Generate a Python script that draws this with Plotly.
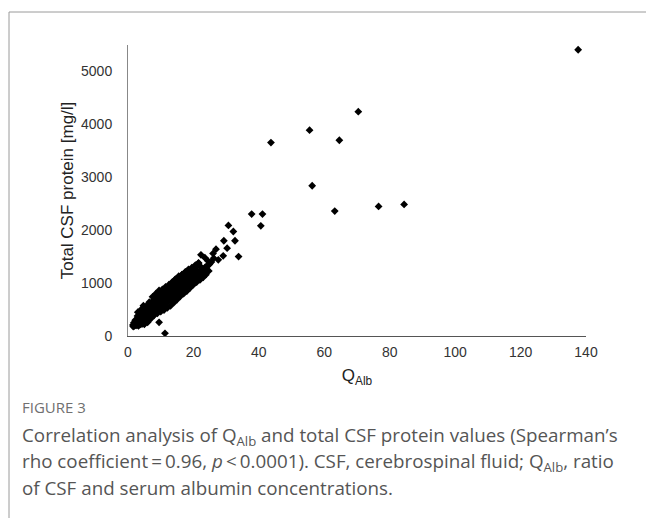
import plotly.graph_objects as go

# Q_Alb values (x) and total CSF protein [mg/l] (y)
q_alb = [
    1.5, 1.8, 2.0, 2.2, 2.4, 2.6, 2.8, 3.0, 3.1, 3.3, 3.5, 3.6, 3.8, 4.0, 4.1, 4.3, 4.5, 4.6, 4.8, 5.0,
    5.1, 5.3, 5.5, 5.6, 5.8, 6.0, 6.1, 6.3, 6.5, 6.6, 6.8, 7.0, 7.1, 7.3, 7.5, 7.6, 7.8, 8.0, 8.1, 8.3,
    8.5, 8.6, 8.8, 9.0, 9.1, 9.3, 9.5, 9.6, 9.8, 10.0, 10.1, 10.3, 10.5, 10.6, 10.8, 11.0, 11.1, 11.3,
    11.5, 11.6, 11.8, 12.0, 12.1, 12.3, 12.5, 12.6, 12.8, 13.0, 13.1, 13.3, 13.5, 13.6, 13.8, 14.0,
    14.1, 14.3, 14.5, 14.6, 14.8, 15.0, 15.2, 15.4, 15.6, 15.8, 16.0, 16.2, 16.4, 16.6, 16.8, 17.0,
    17.2, 17.4, 17.6, 17.8, 18.0, 18.2, 18.4, 18.6, 18.8, 19.0, 19.3, 19.6, 19.9, 20.2, 20.5, 20.8,
    21.1, 21.4, 21.8, 22.1, 22.5, 22.9, 23.3, 23.8, 24.2, 24.7,
    1.6, 2.5, 3.2, 3.9, 4.4, 5.2, 2.9, 4.7, 6.2, 7.2, 8.4, 9.4, 10.4, 11.4, 12.4, 13.4, 14.4, 15.5,
    16.5, 17.5, 18.5, 19.5, 20.6, 21.6,
    3.0, 4.0, 5.5, 6.5, 7.5, 8.5, 9.5, 10.5, 11.5, 12.5, 13.5, 14.5, 15.5, 16.5, 17.5, 18.5, 19.5,
    20.5, 21.5,
    5.0, 6.0, 7.0, 8.0, 9.0, 10.0, 11.0, 12.0, 13.0, 14.0, 15.0, 16.0, 17.0, 18.0, 19.0, 20.0, 21.0,
    22.0, 23.0,
    6.7, 9.7, 12.7, 15.7, 18.7, 21.2, 23.6, 24.8,
    25.5, 26.2, 26.9, 27.6, 25.0, 21.5, 22.3, 29.1, 30.3, 29.3, 32.7, 32.2, 30.7, 33.8, 23.5, 24.4,
    26.0, 37.8, 41.1, 40.6, 43.7, 55.5, 70.4, 64.6, 56.3, 63.2, 76.6, 84.4, 137.6, 11.3, 9.5, 4.7,
]
csf_protein = [
    210, 250, 190, 300, 230, 270, 210, 330, 260, 300, 240, 380, 290, 340, 260, 420, 310, 370, 280, 450,
    330, 390, 300, 480, 360, 420, 520, 340, 460, 390, 560, 430, 500, 370, 600, 470, 530, 410, 650, 500,
    570, 450, 700, 540, 620, 480, 760, 580, 660, 520, 720, 610, 690, 560, 780, 640, 740, 600,
    820, 680, 760, 640, 880, 720, 800, 680, 930, 760, 850, 700, 960, 800, 890, 740,
    1000, 840, 930, 790, 1020, 880, 970, 830, 1060, 920, 1000, 870, 1090, 950, 1040, 900,
    1130, 990, 1070, 940, 1150, 1020, 1100, 980, 1180, 1060, 1130, 1010, 1210, 1090, 1170, 1050,
    1240, 1130, 1200, 1100, 1290, 1180, 1250, 1160, 1330, 1230,
    180, 200, 190, 220, 230, 250, 380, 470, 580, 640, 730, 810, 820, 860, 910, 990, 1070, 1130,
    1160, 1210, 1260, 1290, 1340, 1380,
    450, 500, 560, 640, 740, 800, 860, 880, 930, 970, 1020, 1070, 1110, 1160, 1200, 1230, 1270,
    1310, 1350,
    220, 260, 330, 390, 430, 460, 490, 530, 570, 630, 690, 750, 800, 850, 910, 970, 1020,
    1060, 1110,
    480, 700, 850, 1000, 1150, 1200, 1300, 1350,
    1400, 1470, 1641, 1439, 1364, 1377, 1534, 1515, 1660, 1800, 1800, 1975, 2089, 1502, 1480, 1420,
    1560, 2305, 2305, 2083, 3655, 3890, 4240, 3700, 2840, 2362, 2449, 2487, 5410, 51, 259, 574,
]

x_ticks = [0, 20, 40, 60, 80, 100, 120, 140]
y_ticks = [0, 1000, 2000, 3000, 4000, 5000]

caption_head = "FIGURE 3"
caption_lines = [
    "Correlation analysis of Q<sub>Alb</sub> and total CSF protein values (Spearman\u2019s",
    "rho coefficient\u2009=\u20090.96, <i>p</i>\u2009<\u20090.0001). CSF, cerebrospinal fluid; Q<sub>Alb</sub>, ratio",
    "of CSF and serum albumin concentrations.",
]

# plot area in pixels
L, R, T, B = 128, 60, 45, 182
W, H = 646, 518
pw, ph = W - L - R, H - T - B


def px(xp):
    return (xp - L) / pw


def py(yp):
    return (H - B - yp) / ph


fig = go.Figure()
fig.add_trace(go.Scatter(
    x=q_alb, y=csf_protein, mode="markers",
    marker=dict(symbol="diamond", size=6, color="black", line=dict(width=0)),
    showlegend=False, hoverinfo="skip",
))

axis_font = dict(family="Liberation Sans, Arial", size=14, color="#333333")

fig.update_xaxes(
    range=[0, 140], tickvals=x_ticks, ticktext=[str(v) for v in x_ticks],
    showgrid=False, zeroline=False, showline=True, linecolor="#555555", linewidth=1,
    ticks="", tickfont=axis_font, ticklabelstandoff=3,
    title=dict(text="Q<sub>Alb</sub>", font=dict(family="Liberation Sans, Arial", size=17, color="#222222"),
               standoff=10),
)
fig.update_yaxes(
    range=[0, 5500], tickvals=y_ticks, ticktext=[str(v) for v in y_ticks],
    showgrid=False, zeroline=False, showline=True, linecolor="#888888", linewidth=1,
    ticks="", tickfont=axis_font, ticklabelstandoff=12,
    title=dict(text="Total CSF protein [mg/l]", font=dict(family="Liberation Sans, Arial", size=17, color="#222222"),
               standoff=3),
)

# frame around the figure panel
frame_col = "#9a9a9a"
fig.add_shape(type="line", xref="paper", yref="paper", x0=px(9), x1=px(646), y0=py(12), y1=py(12),
              line=dict(color=frame_col, width=1))
fig.add_shape(type="line", xref="paper", yref="paper", x0=px(9), x1=px(9), y0=py(12), y1=py(518),
              line=dict(color=frame_col, width=1))

cap_font = "Open Sans, Lato, sans-serif"
fig.add_annotation(text=caption_head, xref="paper", yref="paper", x=px(20), y=py(407),
                   xanchor="left", yanchor="middle", showarrow=False,
                   font=dict(family=cap_font, size=15, color="#707070"))
for i, line in enumerate(caption_lines):
    fig.add_annotation(text=line, xref="paper", yref="paper", x=px(20), y=py(436 + 26 * i),
                       xanchor="left", yanchor="middle", showarrow=False,
                       font=dict(family=cap_font, size=18.8, color="#555555"))

fig.update_layout(
    width=W, height=H, margin=dict(l=L, r=R, t=T, b=B),
    paper_bgcolor="white", plot_bgcolor="white",
)

fig.write_html("out.html", config={"displayModeBar": False},
               post_script="document.body.style.margin='0';")
